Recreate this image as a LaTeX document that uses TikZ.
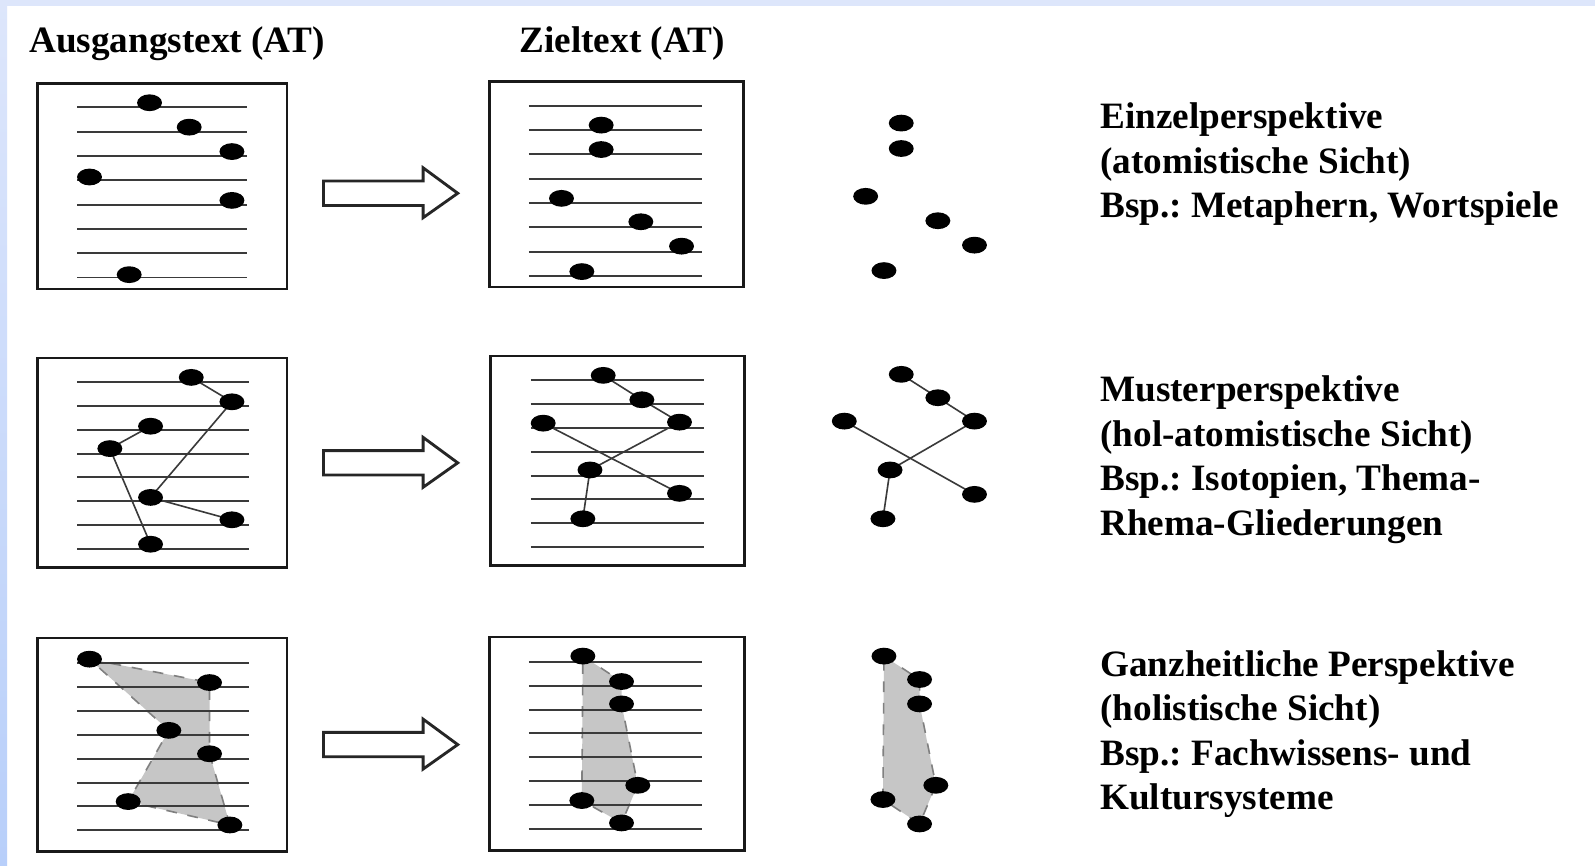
\documentclass[tikz,border=0pt]{standalone}
\usepackage{fontspec}
\setmainfont{Liberation Serif}
\usetikzlibrary{shapes.geometric,backgrounds}
\frenchspacing

\definecolor{slideblue}{HTML}{DDE6FB}
\definecolor{slidebluedark}{HTML}{B8CFFA}
\definecolor{inkgray}{HTML}{3A3A3A}
\definecolor{stipple}{HTML}{C6C6C6}

\begin{document}
\begin{tikzpicture}[x=0.01cm,y=-0.01cm]
    \tikzstyle{page} = [draw=black!90, line width=0.7pt];
    \tikzstyle{textline} = [draw=inkgray, line width=0.55pt];
    \tikzstyle{dot} = [ellipse, fill=black, inner sep=0pt, minimum width=0.245cm, minimum height=0.165cm];
    \tikzstyle{link} = [draw=inkgray, line width=0.45pt];
    \tikzstyle{area} = [fill=stipple, draw=gray, dashed, line width=0.45pt];
    \tikzstyle{hollowarrow} = [draw=black!85, line width=0.8pt, fill=white, line join=miter];
    \tikzstyle{heading} = [font=\fontsize{10.4}{12.4}\selectfont\bfseries, anchor=base west, inner sep=0pt];
    \tikzstyle{caption} = [heading, align=left];

    % Slide background
    \useasboundingbox (0,0) rectangle (1568,851);
    \begin{pgfonlayer}{background}
        \fill[white] (0,0) rectangle (1568,851);
        \fill[slideblue] (0,0) rectangle (1568,6);
        \shade[top color=slideblue, bottom color=slidebluedark] (0,0) rectangle (7,851);
    \end{pgfonlayer}

    % Headings
    \node[heading] (ausgang) at (28,52) {Ausgangstext (AT)};
    \node[heading] (ziel) at (510,52) {Zieltext (AT)};

    % Text pages with lines
    \draw[page] (37,82) rectangle (282,284);
    \draw[page] (481,80) rectangle (731,282);
    \draw[page] (37,352) rectangle (282,558);
    \draw[page] (482,350) rectangle (732,556);
    \draw[page] (37,627) rectangle (282,837);
    \draw[page] (481,626) rectangle (732,836);
    \foreach \i in {0,...,7} {
        \draw[textline] (76,105.5+23.9*\i) -- (243,105.5+23.9*\i);
        \draw[textline] (520,104+23.9*\i) -- (690,104+23.9*\i);
        \draw[textline] (76,375.7+23.4*\i) -- (245,375.7+23.4*\i);
        \draw[textline] (522,374+23.4*\i) -- (692,374+23.4*\i);
        \draw[textline] (76,651.8+23.5*\i) -- (245,651.8+23.5*\i);
        \draw[textline] (520,650.8+23.4*\i) -- (690,650.8+23.4*\i);
    }

    % Transfer arrows
    \foreach \y in {190,455,732}
        \draw[hollowarrow] (318,\y-12) -- (416,\y-12) -- (416,\y-25) -- (450,\y)
            -- (416,\y+24) -- (416,\y+12) -- (318,\y+12) -- cycle;

    % Row 1: single elements
    \foreach \p [count=\i] in {(147,101),(186,125),(228,149),(88,174),(228,197),(127,270)}
        \node[dot] (a1-\i) at \p {};
    \foreach \p [count=\i] in {(591,123),(591,147),(552,195),(630,218),(670,242),(572,267)}
        \node[dot] (z1-\i) at \p {};
    \foreach \p [count=\i] in {(886,121),(886,146),(851,193),(922,217),(958,241),(869,266)}
        \node[dot] (s1-\i) at \p {};

    % Row 2: patterns
    \foreach \p [count=\i] in {(188,371),(228,395),(148,419),(108,441),(148,489),(228,511),(148,535)}
        \node[dot] (a2-\i) at \p {};
    \foreach \p [count=\i] in {(593,369),(631,393),(668,415),(534,416),(580,462),(668,485),(573,510)}
        \node[dot] (z2-\i) at \p {};
    \foreach \p [count=\i] in {(886,368),(922,391),(958,414),(830,414),(875,462),(958,486),(868,510)}
        \node[dot] (s2-\i) at \p {};

    \begin{pgfonlayer}{background}
        \draw[link] (a2-1.center) -- (a2-2.center) -- (a2-5.center) -- (a2-6.center);
        \draw[link] (a2-3.center) -- (a2-4.center) -- (a2-7.center);
        \foreach \n in {z2,s2} {
            \draw[link] (\n-1.center) -- (\n-2.center) -- (\n-3.center) -- (\n-5.center) -- (\n-7.center);
            \draw[link] (\n-4.center) -- (\n-6.center);
        }
    \end{pgfonlayer}

    % Row 3: whole systems
    \foreach \p [count=\i] in {(88,648),(206,671),(166,718),(206,741),(126,788),(226,811)}
        \node[dot] (a3-\i) at \p {};
    \foreach \p [count=\i] in {(573,645),(611,670),(611,692),(627,772),(572,787),(611,809)}
        \node[dot] (z3-\i) at \p {};
    \foreach \p [count=\i] in {(869,645),(904,668),(904,692),(920,772),(868,786),(904,810)}
        \node[dot] (s3-\i) at \p {};

    \begin{pgfonlayer}{background}
        \draw[area] (a3-1.center) -- (a3-2.center) -- (a3-4.center) -- (a3-6.center)
            -- (a3-5.center) -- (a3-3.center) -- cycle;
        \foreach \n in {z3,s3}
            \draw[area] (\n-1.center) -- (\n-2.center) -- (\n-3.center) -- (\n-4.center)
                -- (\n-6.center) -- (\n-5.center) -- cycle;
    \end{pgfonlayer}

    % Captions (anchored at the baseline of their last line)
    \node[caption] (einzel) at (1081,214) {Einzelperspektive\\(atomistische Sicht)\\Bsp.: Metaphern, Wortspiele};
    \node[caption] (muster) at (1081,526) {Musterperspektive\\(hol-atomistische Sicht)\\Bsp.: Isotopien, Thema-\\Rhema-Gliederungen};
    \node[caption] (ganz) at (1081,796) {Ganzheitliche Perspektive\\(holistische Sicht)\\Bsp.: Fachwissens- und\\Kultursysteme};
\end{tikzpicture}
\end{document}
